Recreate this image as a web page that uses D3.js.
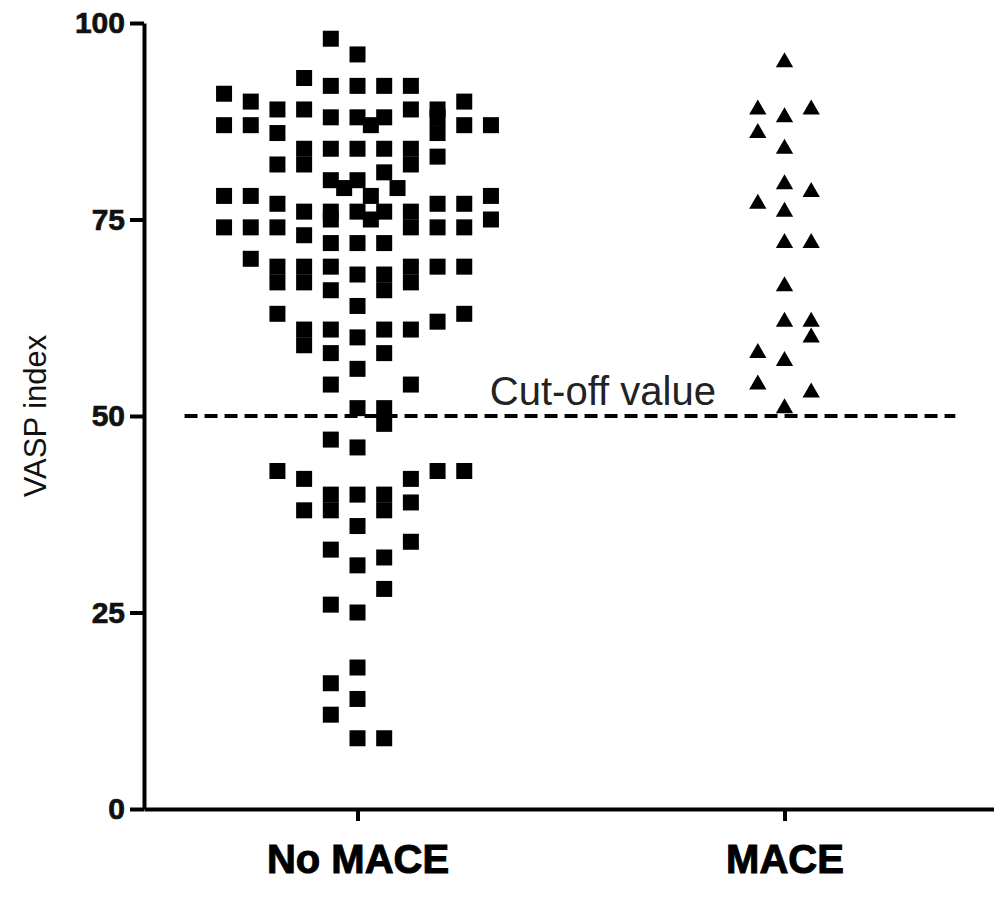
<!DOCTYPE html>
<html>
<head>
<meta charset="utf-8">
<script src="https://cdn.jsdelivr.net/npm/d3@7"></script>
<style>
  body { margin: 0; background: #fff; overflow: hidden; }
  svg { display: block; }
  svg text { font-family: "Liberation Sans", Arial, sans-serif; }
</style>
</head>
<body>
<svg id="chart" width="994" height="916"></svg>
<script>
// groups on the x axis
const groups = ["No MACE", "MACE"];
const yTicks = [0, 25, 50, 75, 100];
const cutOff = 50;

// No MACE: VASP index and jitter slot (in 1/16 of a group step)
const noMaceValues = [
  98, 96, 93, 92, 92, 92, 92, 91, 90, 90, 89, 89, 89, 89,
  87, 87, 88, 88, 87, 88, 88, 87, 87, 86, 86,
  84, 82, 84, 84, 84, 84, 82, 83, 82,
  80, 79, 80, 81, 79, 78, 76, 76, 75,
  78, 78, 77, 76, 76, 75, 76, 74, 77, 77, 78, 75,
  74, 74, 74, 73, 74, 74, 72, 72, 72, 70,
  69, 67, 69, 67, 69, 66, 68, 68, 66, 69, 67, 69, 69,
  63, 64, 63, 62, 61, 59, 61, 58, 60, 61, 58, 61,
  56, 54, 54, 51, 51, 49, 47, 46,
  43, 42, 42, 43, 43, 40, 38, 40, 40, 38, 38, 39,
  36, 34, 33, 32, 31, 28, 26, 25, 18, 16, 14, 12, 9, 9
];
const noMaceSlots = [
  -1, 0, -2, -1, 0, 1, 2, -5, -4, 4, -3, -2, 2, 3,
  -5, -4, -1, 0, 0.5, 1, 3, 4, 5, -3, 3,
  -2, -2, -1, 0, 1, 2, 2, 3, -3,
  -1, -0.5, 0, 1, 1.5, 0.5, 0, 1, 0.5,
  -5, -4, -3, -2, -1, -1, 2, 2, 3, 4, 5, 5,
  -5, -4, -3, -2, 3, 4, -1, 0, 1, -4,
  -3, -3, -2, -2, -1, -1, 0, 1, 1, 2, 2, 3, 4,
  -3, 0, 4, 3, -2, -2, -1, -1, 0, 1, 1, 2,
  0, -1, 2, 0, 1, 1, -1, 0,
  -3, -2, 2, 3, 4, -1, -1, 0, 1, 1, -2, 2,
  0, 2, -1, 1, 0, 1, -1, 0, 0, -1, 0, -1, 0, 1
];

// MACE: VASP index and jitter slot
const maceValues = [95, 89, 89, 88, 86, 84, 79.5, 78.5, 77, 76, 72, 72, 66.5, 62, 62, 60, 58, 57, 54, 53, 51];
const maceSlots  = [0, -1, 1, 0, -1, 0, 0, 1, -1, 0, 0, 1, 0, 0, 1, 1, -1, 0, -1, 1, 0];

const svg = d3.select("#chart");

const x = d3.scaleLinear().domain([-0.5, 1.5]).range([144, 998]);
const y = d3.scaleLinear().domain([0, 100]).range([809, 23]);
const slotStep = 1 / 16;

// y axis
const yAxis = svg.append("g")
    .attr("transform", `translate(${x(-0.5)},0)`)
    .call(d3.axisLeft(y).tickValues(yTicks).tickSize(14).tickSizeOuter(0).tickPadding(5));
yAxis.select(".domain").attr("stroke", "#000").attr("stroke-width", 4);
yAxis.selectAll(".tick line").attr("stroke", "#000").attr("stroke-width", 4);
yAxis.selectAll(".tick text")
    .attr("fill", "#111")
    .attr("stroke", "#111")
    .attr("stroke-width", 0.7)
    .style("font-size", "30px")
    .style("font-weight", "bold");

// x axis
const xAxis = svg.append("g")
    .attr("transform", `translate(0,${y(0)})`)
    .call(d3.axisBottom(x).tickValues([0, 1]).tickFormat(i => groups[i])
        .tickSize(12).tickSizeOuter(0).tickPadding(24));
xAxis.select(".domain").attr("stroke", "#000").attr("stroke-width", 4);
xAxis.selectAll(".tick line").attr("stroke", "#000").attr("stroke-width", 4);
xAxis.selectAll(".tick text")
    .attr("fill", "#000")
    .attr("stroke", "#000")
    .attr("stroke-width", 1)
    .style("font-size", "40px")
    .style("font-weight", "bold");

// y axis title
svg.append("text")
    .attr("transform", `translate(46,${y(50)}) rotate(-90)`)
    .attr("text-anchor", "middle")
    .attr("fill", "#111")
    .style("font-size", "31px")
    .text("VASP index");

// cut-off line
svg.append("line")
    .attr("x1", x(-0.405)).attr("x2", x(1.4))
    .attr("y1", y(cutOff)).attr("y2", y(cutOff))
    .attr("stroke", "#000")
    .attr("stroke-width", 4)
    .attr("stroke-dasharray", "13,7");

svg.append("text")
    .attr("x", x(0.31))
    .attr("y", y(cutOff) - 11)
    .attr("fill", "#222")
    .style("font-size", "40px")
    .text("Cut-off value");

// No MACE squares
const noMace = noMaceValues.map((v, i) => ({ value: v, slot: noMaceSlots[i] }));
svg.append("g")
    .selectAll("path")
    .data(noMace)
    .enter()
    .append("path")
    .attr("d", d3.symbol(d3.symbolSquare, 256))
    .attr("transform", d => `translate(${x(0 + d.slot * slotStep)},${y(d.value)})`)
    .attr("fill", "#000");

// MACE triangles
const mace = maceValues.map((v, i) => ({ value: v, slot: maceSlots[i] }));
svg.append("g")
    .selectAll("path")
    .data(mace)
    .enter()
    .append("path")
    .attr("d", d3.symbol(d3.symbolTriangle, 130))
    .attr("transform", d => `translate(${x(1 + d.slot * slotStep)},${y(d.value)})`)
    .attr("fill", "#000");
</script>
</body>
</html>
